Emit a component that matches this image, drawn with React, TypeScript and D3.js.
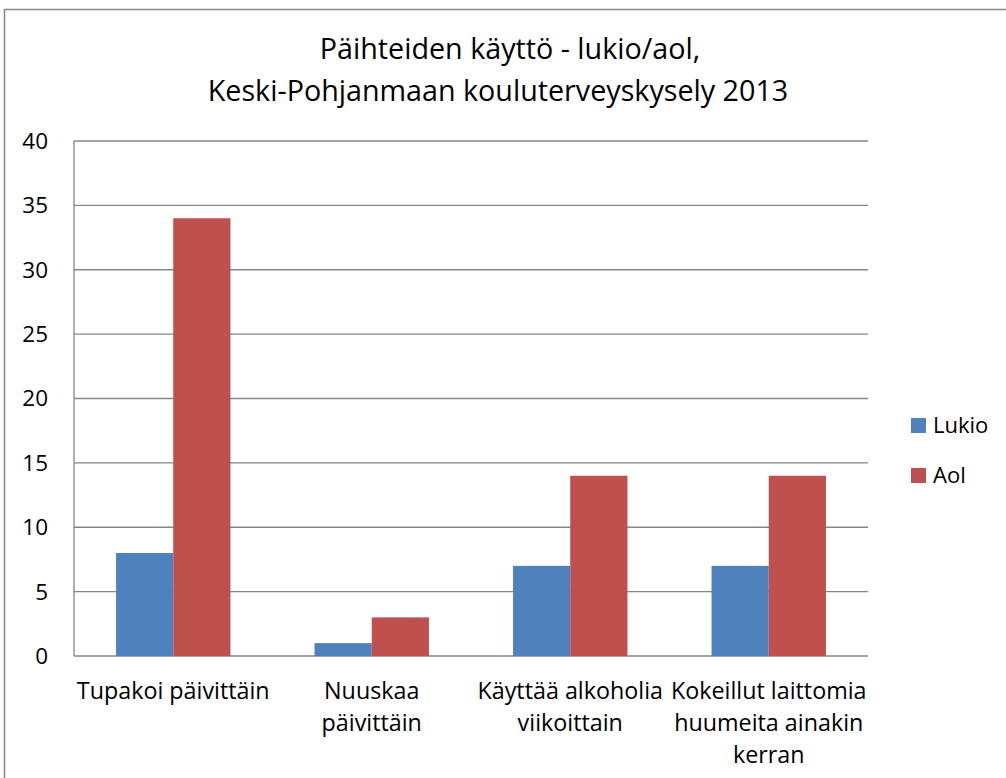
import React from 'react';
import * as d3 from 'd3';

const categories = [
  ['Tupakoi päivittäin'],
  ['Nuuskaa', 'päivittäin'],
  ['Käyttää alkoholia', 'viikoittain'],
  ['Kokeillut laittomia', 'huumeita ainakin', 'kerran'],
];
const seriesNames = ['Lukio', 'Aol'];
const lukio = [8, 1, 7, 7];
const aol = [34, 3, 14, 14];
const yTicks = [0, 5, 10, 15, 20, 25, 30, 35, 40];
const titleLines = ['Päihteiden käyttö - lukio/aol,', 'Keski-Pohjanmaan kouluterveyskysely 2013'];

const colors = ['#4F81BD', '#C0504D'];
const gridColor = '#868686';
const font = '"Open Sans", sans-serif';

const App: React.FC = () => {
  const width = 1006;
  const height = 778;
  const plot = { left: 74, right: 868, top: 141, bottom: 656 };

  const xScale = d3
    .scaleBand<number>()
    .domain(d3.range(categories.length))
    .range([plot.left, plot.right])
    .paddingInner(0)
    .paddingOuter(0);

  const inner = d3
    .scaleBand<number>()
    .domain([0, 1])
    .range([0, xScale.bandwidth()])
    .paddingOuter(0.735)
    .paddingInner(0);

  const yScale = d3.scaleLinear().domain([0, 40]).range([plot.bottom, plot.top]);

  const series = [lukio, aol];

  return (
    <svg
      width={width}
      height={height}
      style={{ position: 'absolute', left: 0, top: 0, background: '#fff' }}
      fontFamily={font}
    >
      <rect x={4.5} y={9.5} width={1010} height={780} fill="#fff" stroke={gridColor} strokeWidth={1.5} />

      {titleLines.map((t, i) => (
        <text key={t} x={i === 0 ? 510 : 498} y={59 + i * 42} textAnchor="middle" fontSize={28.7} fill="#000">
          {t}
        </text>
      ))}

      {yTicks.map(t => (
        <g key={t}>
          <line x1={plot.left} x2={plot.right} y1={yScale(t)} y2={yScale(t)} stroke={gridColor} strokeWidth={1.3} />
          <text x={48} y={yScale(t)} dy="0.35em" textAnchor="end" fontSize={22.5} fill="#000">
            {t}
          </text>
        </g>
      ))}
      <line x1={plot.left} x2={plot.left} y1={plot.top} y2={plot.bottom} stroke={gridColor} strokeWidth={1.3} />

      {series.map((vals, s) => (
        <g key={seriesNames[s]}>
          {vals.map((v, i) => (
            <rect
              key={i}
              x={(xScale(i) ?? 0) + (inner(s) ?? 0)}
              y={yScale(v)}
              width={inner.bandwidth()}
              height={plot.bottom - yScale(v)}
              fill={colors[s]}
            />
          ))}
        </g>
      ))}

      {categories.map((lines, i) => (
        <text key={i} textAnchor="middle" fontSize={23.3} fill="#000">
          {lines.map((l, j) => (
            <tspan key={l} x={(xScale(i) ?? 0) + xScale.bandwidth() / 2} y={699 + j * 32}>
              {l}
            </tspan>
          ))}
        </text>
      ))}

      {seriesNames.map((name, s) => (
        <g key={name} transform={`translate(911, ${418 + s * 50})`}>
          <rect width={15} height={15} fill={colors[s]} />
          <text x={22} y={7.5} dy="0.36em" fontSize={22} fill="#000">
            {name}
          </text>
        </g>
      ))}
    </svg>
  );
};

export default App;
